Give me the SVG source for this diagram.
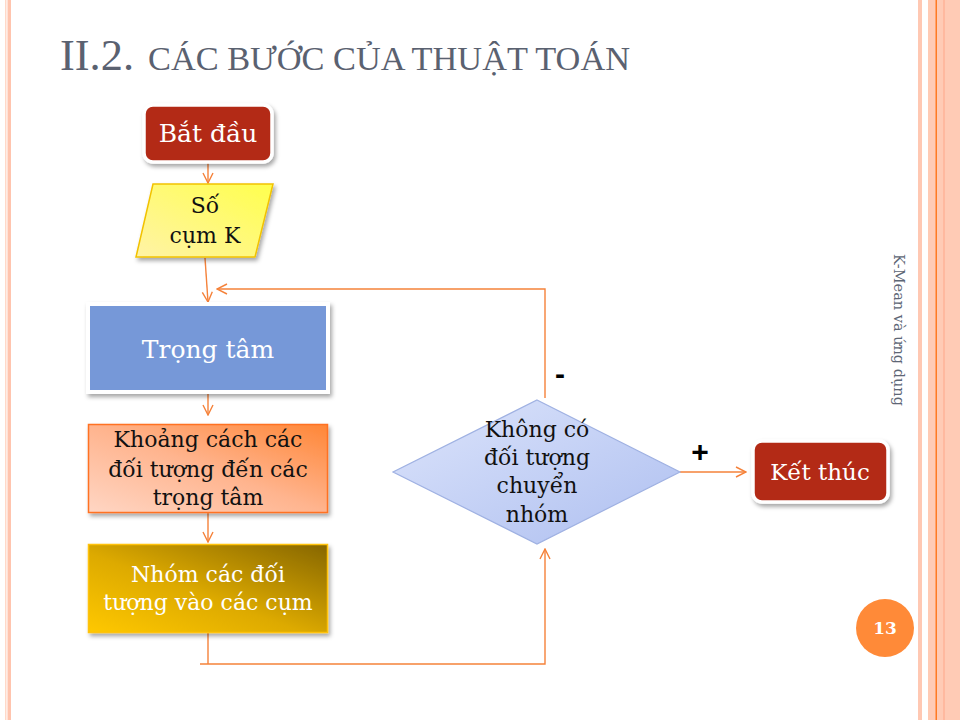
<svg xmlns="http://www.w3.org/2000/svg" width="960" height="720" viewBox="0 0 960 720">
<defs>
<style>
.t{font-family:"DejaVu Serif","Liberation Serif",serif;text-anchor:middle}
.w{fill:#ffffff}
.k{fill:#111111}
.c{fill:none;stroke:#f5823a;stroke-width:1.4}
</style>
<marker id="ah" viewBox="0 0 12 12" refX="11" refY="6" markerWidth="12" markerHeight="12" markerUnits="userSpaceOnUse" orient="auto">
<path d="M1,1 L11,6 L1,11" fill="none" stroke="#f5823a" stroke-width="1.4"/>
</marker>
<filter id="sh" x="-10%" y="-10%" width="130%" height="140%">
<feDropShadow dx="2" dy="3" stdDeviation="2" flood-color="#000" flood-opacity="0.35"/>
</filter>
<linearGradient id="gy" x1="0" y1="1" x2="1" y2="0">
<stop offset="0" stop-color="#fff3a6"/>
<stop offset="1" stop-color="#ffff4d"/>
</linearGradient>
<linearGradient id="go" x1="0" y1="1" x2="1" y2="0">
<stop offset="0" stop-color="#ffd6c4"/>
<stop offset="0.5" stop-color="#ffb48e"/>
<stop offset="1" stop-color="#ff8636"/>
</linearGradient>
<linearGradient id="gg" x1="0" y1="1" x2="1" y2="0">
<stop offset="0" stop-color="#ffc800"/>
<stop offset="0.45" stop-color="#ddaa00"/>
<stop offset="1" stop-color="#866600"/>
</linearGradient>
<linearGradient id="gb" x1="0" y1="0" x2="1" y2="1">
<stop offset="0" stop-color="#dce4fb"/>
<stop offset="1" stop-color="#aebff0"/>
</linearGradient>
</defs>
<rect width="960" height="720" fill="#ffffff"/>
<!-- side decorations -->
<rect x="5" y="0" width="1.5" height="720" fill="#ffd9c9"/>
<rect x="7.5" y="0" width="3.5" height="720" fill="#ffc4ae"/>
<rect x="918" y="0" width="4" height="720" fill="#ffc8b3"/>
<rect x="928" y="0" width="32" height="720" fill="#ffcbb5"/>
<rect x="935.5" y="0" width="1.5" height="720" fill="#ff7a22"/>
<rect x="943" y="0" width="2" height="720" fill="#ffb99f"/>
<!-- title -->
<g id="title" fill="#5a6170" font-family="'Liberation Serif',serif">
<text x="60" y="70" font-size="45" textLength="74" lengthAdjust="spacingAndGlyphs">II.2.</text>
<text x="148" y="70" font-size="34" textLength="482" lengthAdjust="spacingAndGlyphs">CÁC BƯỚC CỦA THUẬT TOÁN</text>
</g>
<g id="side-label">
<text class="t" transform="translate(894,330) rotate(90)" font-size="14.5" fill="#5d6675">K-Mean và ứng dụng</text>
</g>
<g id="page-number">
<circle cx="885" cy="628" r="29" fill="#ff8a38"/>
<text class="t w" x="885" y="634" font-size="17" font-weight="bold">13</text>
</g>
<!-- connectors -->
<g id="connectors">
<path class="c" d="M208,162 L208,183" marker-end="url(#ah)"/>
<path class="c" d="M205,258 L208,302" marker-end="url(#ah)"/>
<path class="c" d="M208,392 L208,415" marker-end="url(#ah)"/>
<path class="c" d="M208,513 L208,542" marker-end="url(#ah)"/>
<path class="c" d="M208,633 L208,664"/>
<path class="c" d="M200,664 L545,664 L545,549" marker-end="url(#ah)"/>
<path class="c" d="M545,398 L545,289 L217,289" marker-end="url(#ah)"/>
<path class="c" d="M680,472 L746,472" marker-end="url(#ah)"/>
<text x="560" y="384" font-family="'Liberation Sans',Arial,sans-serif" font-size="30" font-weight="bold" text-anchor="middle" fill="#000">-</text>
<text x="700" y="462" font-family="'Liberation Sans',Arial,sans-serif" font-size="30" font-weight="bold" text-anchor="middle" fill="#000">+</text>
</g>
<!-- nodes -->
<g id="start">
<rect x="144" y="105" width="128" height="57" rx="9" fill="#b32b17" stroke="#ffffff" stroke-width="3.5" filter="url(#sh)"/>
<text class="t w" x="208" y="142" font-size="25">Bắt đầu</text>
</g>
<g id="input-k">
<polygon points="153,184 273,184 255,257 136,257" fill="url(#gy)" stroke="#f2c200" stroke-width="1.5" filter="url(#sh)"/>
<text class="t k" x="205" y="213" font-size="22">Số</text>
<text class="t k" x="205" y="243" font-size="22">cụm K</text>
</g>
<g id="centroids">
<rect x="88" y="304" width="240" height="88" fill="#7698d8" stroke="#ffffff" stroke-width="4" filter="url(#sh)"/>
<text class="t w" x="208" y="358" font-size="25">Trọng tâm</text>
</g>
<g id="distance">
<rect x="88.5" y="424.5" width="239" height="88" fill="url(#go)" stroke="#ff7224" stroke-width="1.5" filter="url(#sh)"/>
<text class="t k" x="208" y="447" font-size="22">Khoảng cách các</text>
<text class="t k" x="208" y="477" font-size="22">đối tượng đến các</text>
<text class="t k" x="208" y="505" font-size="22">trọng tâm</text>
</g>
<g id="assign">
<rect x="88.5" y="544.5" width="239" height="88" fill="url(#gg)" stroke="#ffc20a" stroke-width="1.5" filter="url(#sh)"/>
<text class="t w" x="208" y="582" font-size="22">Nhóm các đối</text>
<text class="t w" x="208" y="610" font-size="22">tượng vào các cụm</text>
</g>
<g id="decision">
<polygon points="537,400 680,472 537,544 393,472" fill="url(#gb)" stroke="#9fb1e2" stroke-width="1.2"/>
<text class="t k" x="537" y="437" font-size="22">Không có</text>
<text class="t k" x="537" y="465" font-size="22">đối tượng</text>
<text class="t k" x="537" y="493" font-size="22">chuyển</text>
<text class="t k" x="537" y="522" font-size="22">nhóm</text>
</g>
<g id="end">
<rect x="753" y="441" width="135" height="61" rx="9" fill="#b32b17" stroke="#ffffff" stroke-width="3.5" filter="url(#sh)"/>
<text class="t w" x="820" y="480" font-size="23">Kết thúc</text>
</g>
</svg>
